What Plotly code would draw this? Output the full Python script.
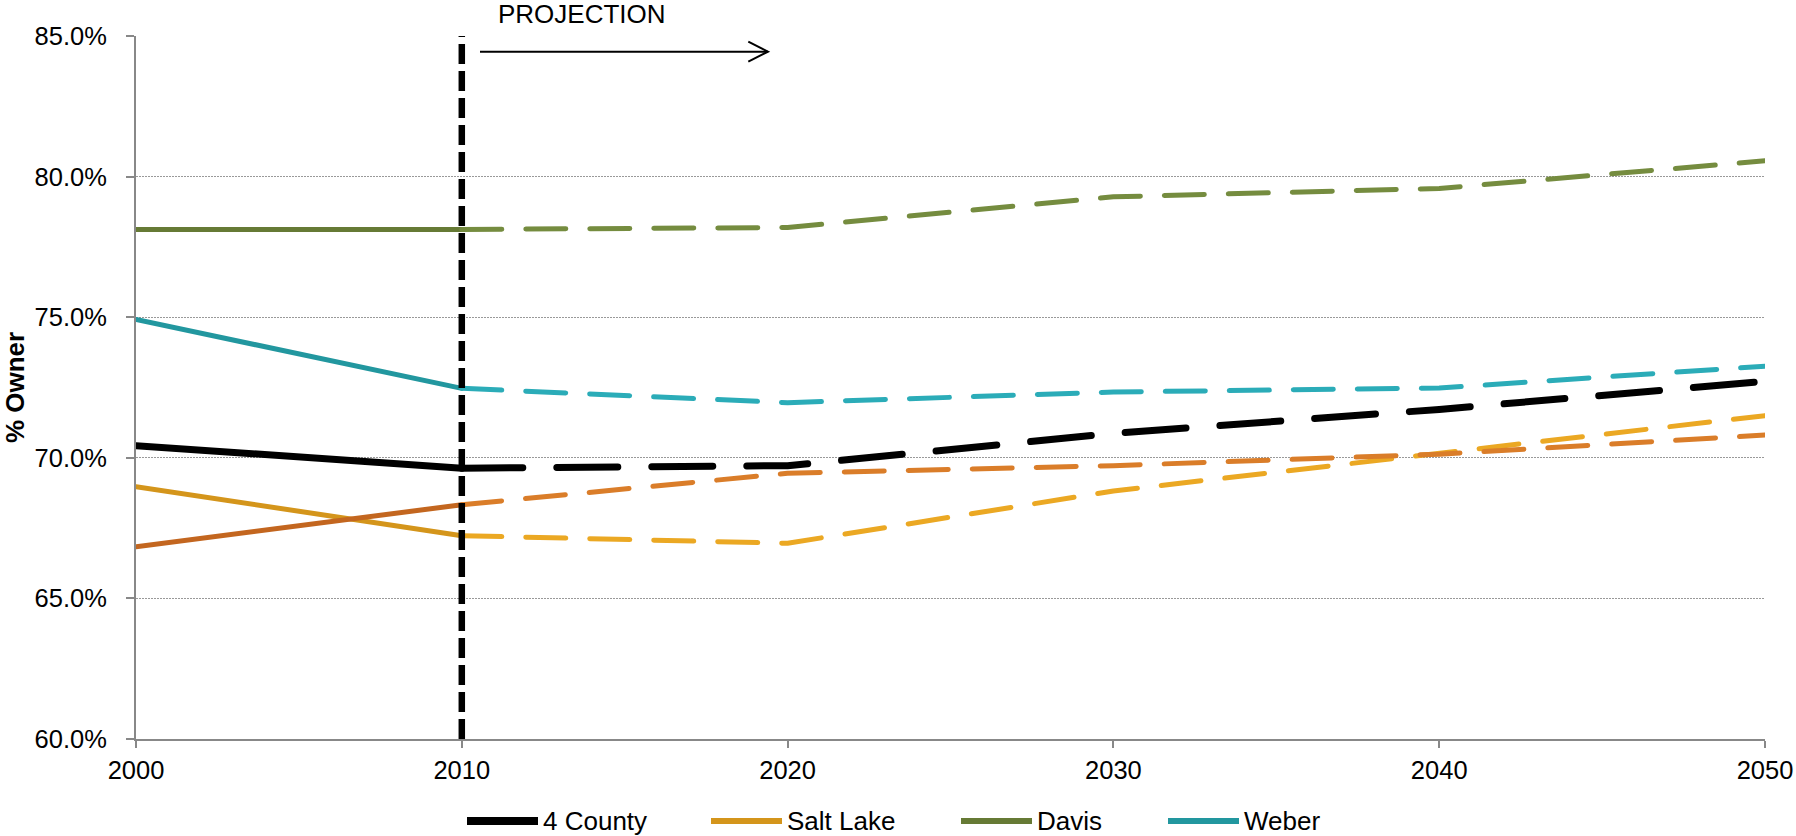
import plotly.graph_objects as go

# Homeownership rate by county, 2000-2050 (2010 onward is projected)
years = [2000, 2010, 2020, 2030, 2040, 2050]
county4 = [70.43, 69.63, 69.72, 70.87, 71.72, 72.72]
salt_lake = [68.97, 67.23, 66.96, 68.82, 70.18, 71.50]
davis = [78.12, 78.12, 78.19, 79.28, 79.58, 80.56]
weber = [74.92, 72.47, 71.96, 72.34, 72.48, 73.26]
utah = [66.84, 68.33, 69.45, 69.72, 70.13, 70.81]

y_ticks = [60, 65, 70, 75, 80, 85]
x_ticks = [2000, 2010, 2020, 2030, 2040, 2050]
projection_start = 2010

FONT = "Liberation Sans, Arial, sans-serif"
W, H = 1796, 836
ML, MR, MT, MB = 136, 31, 36, 97
PW, PH = W - ML - MR, H - MT - MB


def px_x(px):
    return (px - ML) / PW


def px_y(py):
    return (H - MB - py) / PH


# name, values, observed colour, projected colour, width, projected dash, in legend
series = [
    ("Salt Lake", salt_lake, "#D4951B", "#EBA823", 5, "40px,24px", True),
    ("Utah", utah, "#C3661F", "#DA7D29", 5, "40px,24px", False),
    ("Weber", weber, "#22979F", "#2BACB8", 5, "40px,24px", True),
    ("Davis", davis, "#667A35", "#758C3F", 5, "40px,24px", True),
    ("4 County", county4, "#000000", "#000000", 7, "61px,34px", True),
]

fig = go.Figure()
split = years.index(projection_start)
for name, vals, c_obs, c_proj, w, dash, _ in series:
    fig.add_trace(go.Scatter(
        x=years[:split + 1], y=vals[:split + 1], mode="lines", name=name,
        line=dict(color=c_obs, width=w), showlegend=False, hoverinfo="skip"))
    fig.add_trace(go.Scatter(
        x=years[split:], y=vals[split:], mode="lines", name=name + " (projected)",
        line=dict(color=c_proj, width=w, dash=dash), showlegend=False,
        hoverinfo="skip"))

shapes = []
annotations = []

# projection divider
shapes.append(dict(type="line", xref="x", yref="paper", x0=projection_start,
                   x1=projection_start, y0=0, y1=1,
                   line=dict(color="#000000", width=6.5, dash="20px,7px")))

# projection arrow
ay = px_y(51.7)
shapes.append(dict(type="line", xref="paper", yref="paper",
                   x0=px_x(480), x1=px_x(768), y0=ay, y1=ay,
                   line=dict(color="#000000", width=2)))
shapes.append(dict(type="path", xref="paper", yref="paper",
                   path="M {a},{b} L {c},{d} L {a},{e}".format(
                       a=px_x(748.3), b=px_y(41.7), c=px_x(768), d=ay, e=px_y(61.7)),
                   line=dict(color="#000000", width=2)))
annotations.append(dict(text="PROJECTION", xref="paper", yref="paper",
                        x=px_x(582), y=px_y(14), xanchor="center", yanchor="middle",
                        showarrow=False, font=dict(family=FONT, size=26, color="#000000")))

# legend
legend_starts = {"4 County": 467, "Salt Lake": 711, "Davis": 961, "Weber": 1168}
legend_order = ["4 County", "Salt Lake", "Davis", "Weber"]
ly = px_y(821)
lookup = {s[0]: s for s in series}
for name in legend_order:
    _, _, c_obs, _, w, _, _ = lookup[name]
    x0 = legend_starts[name]
    shapes.append(dict(type="line", xref="paper", yref="paper",
                       x0=px_x(x0), x1=px_x(x0 + 71), y0=ly, y1=ly,
                       line=dict(color=c_obs, width=w + 1)))
    annotations.append(dict(text=name, xref="paper", yref="paper",
                            x=px_x(x0 + 74), y=ly, xanchor="left", yanchor="middle",
                            showarrow=False,
                            font=dict(family=FONT, size=26, color="#000000")))

fig.update_layout(
    width=W, height=H,
    margin=dict(l=ML, r=MR, t=MT, b=MB, pad=0, autoexpand=False),
    paper_bgcolor="#FFFFFF", plot_bgcolor="#FFFFFF",
    showlegend=False,
    shapes=shapes, annotations=annotations,
    font=dict(family=FONT, size=26, color="#000000"),
)
fig.update_xaxes(
    range=[2000, 2050], tickvals=x_ticks, ticktext=[str(t) for t in x_ticks],
    showgrid=False, zeroline=False, automargin=False,
    showline=True, linecolor="#888888", linewidth=2,
    ticks="outside", ticklen=7, tickwidth=2, tickcolor="#888888",
    tickfont=dict(family=FONT, size=25.5, color="#000000"),
)
fig.update_yaxes(
    range=[60, 85], tickvals=y_ticks, ticktext=["%.1f%%" % t for t in y_ticks],
    showgrid=True, gridcolor="#999999", gridwidth=1.3, griddash="1.5px,1.5px",
    zeroline=False, automargin=False,
    showline=True, linecolor="#888888", linewidth=2,
    ticks="outside", ticklen=8, tickwidth=2, tickcolor="#888888",
    ticklabelstandoff=14,
    tickfont=dict(family=FONT, size=25.5, color="#000000"),
    title=dict(text="<b>% Owner</b>", standoff=8,
               font=dict(family=FONT, size=26, color="#000000")),
)

post = ("document.body.style.margin='0';"
        "var s=document.createElement('style');"
        "s.textContent='.scatterlayer .js-line{stroke-linecap:round;stroke-linejoin:round}';"
        "document.head.appendChild(s);")
fig.write_html("out.html", post_script=post)
